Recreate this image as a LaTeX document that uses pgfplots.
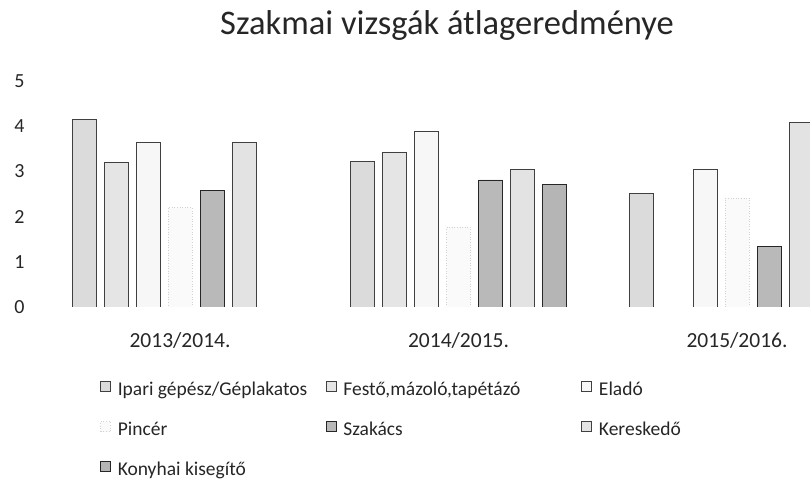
\documentclass[border=0pt]{standalone}
\usepackage{fontspec}
\setmainfont{Carlito}
\usepackage{pgfplots}
\pgfplotsset{compat=1.18}
\begin{document}
\begin{tikzpicture}[x=1pt,y=1pt]
\useasboundingbox (0,0) rectangle (810,484);
\node[anchor=base, font=\fontsize{34.5}{37}\selectfont, text=black!85] at (447,449) {Szakmai vizsgák átlageredménye};
\begin{axis}[
  at={(28pt,177pt)}, anchor=south west,
  scale only axis, width=852pt, height=226pt,
  xmin=-0.5458, xmax=2.5135, ymin=0, ymax=5,
  ybar=8pt, bar width=24pt,
  axis line style={draw=none}, major tick length=0pt,
  xtick={0,1,2}, xticklabels={2013/2014.,2014/2015.,2015/2016.},
  ytick={0,1,2,3,4,5},
  /pgf/number format/assume math mode=true,
  ticklabel style={font=\fontsize{20}{22}\selectfont, text=black!85},
  xticklabel style={anchor=base, yshift=-40pt, font=\fontsize{21.5}{23}\selectfont},
  legend columns=3,
  legend cell align=left,
  legend style={at={(axis description cs:0.0845,-0.3274)}, anchor=north west,
    draw=none, fill=none, inner sep=0pt, column sep=0pt, row sep=21pt,
    font=\fontsize{19.5}{22}\selectfont, text=black!85,
    nodes={inner sep=0pt, text height=14pt, text depth=5pt}},
  every axis plot/.append style={legend image code/.code={\draw[#1, line width=0.6pt] (0pt,-1pt) rectangle (10pt,9pt);}},
]
% Ipari gépész/Géplakatos
\addplot[fill=gray!28, draw=black!75, line width=0.8pt] coordinates {(0,4.14) (1,3.23) (2,2.52)};
% Festő
\addplot[fill=gray!20, draw=black!75, line width=0.8pt] coordinates {(0,3.19) (1,3.43)};
% Eladó
\addplot[fill=gray!6, draw=black!75, line width=0.8pt] coordinates {(0,3.65) (1,3.89) (2,3.05)};
% Pincér
\addplot[fill=gray!4, draw=gray!35, dotted, line width=0.6pt] coordinates {(0,2.2) (1,1.77) (2,2.41)};
% Szakács
\addplot[fill=gray!55, draw=black!85, line width=0.9pt] coordinates {(0,2.57) (1,2.81) (2,1.33)};
% Kereskedő
\addplot[fill=gray!22, draw=black!75, line width=0.8pt] coordinates {(0,3.65) (1,3.05) (2,4.09)};
% Konyhai kisegítő
\addplot[fill=gray!58, draw=black!85, line width=0.9pt] coordinates {(1,2.72)};
\addlegendentry{\hspace*{7pt}\makebox[208pt][l]{Ipari gépész/Géplakatos}}
\addlegendentry{\hspace*{7pt}\makebox[238pt][l]{Festő,mázoló,tapétázó}}
\addlegendentry{\hspace*{7pt}Eladó}
\addlegendentry{\hspace*{7pt}\makebox[208pt][l]{Pincér}}
\addlegendentry{\hspace*{7pt}\makebox[238pt][l]{Szakács}}
\addlegendentry{\hspace*{7pt}Kereskedő}
\addlegendentry{\hspace*{7pt}\makebox[208pt][l]{Konyhai kisegítő}}
\end{axis}
\end{tikzpicture}
\end{document}
